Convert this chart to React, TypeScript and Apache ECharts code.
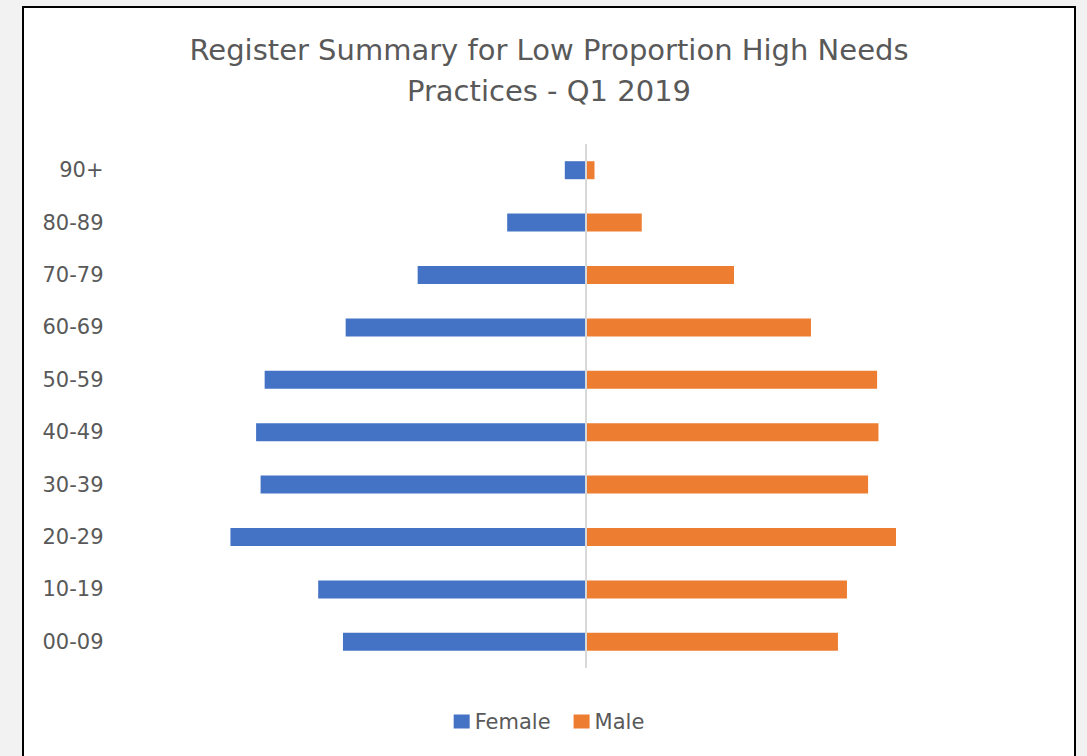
import React, { useEffect, useRef } from "react";
import * as echarts from "echarts";

// Age bands, bottom to top on the category axis
const ageBands = ["00-09", "10-19", "20-29", "30-39", "40-49", "50-59", "60-69", "70-79", "80-89", "90+"];

// Share of the register (%) by age band
const femaleShare = [5.39, 5.94, 7.89, 7.22, 7.32, 7.13, 5.33, 3.73, 1.74, 0.46];
const maleShare = [5.61, 5.81, 6.9, 6.28, 6.51, 6.48, 5.01, 3.3, 1.25, 0.2];

const titleLines = ["Register Summary for Low Proportion High Needs", "Practices - Q1 2019"];

const FONT = "'DejaVu Sans', 'Noto Sans', sans-serif";
const TEXT = "#595959";

export default function App() {
  const ref = useRef<HTMLDivElement>(null);

  useEffect(() => {
    if (!ref.current) return;
    const chart = echarts.init(ref.current, undefined, { renderer: "svg" });
    chart.setOption({
      animation: false,
      backgroundColor: "#ffffff",
      textStyle: { fontFamily: FONT },
      title: {
        text: titleLines.join("\n"),
        left: "center",
        top: 21,
        padding: 0,
        textStyle: {
          fontFamily: FONT,
          fontSize: 29,
          fontWeight: "normal",
          color: TEXT,
          lineHeight: 41,
        },
      },
      legend: {
        data: ["Female", "Male"],
        bottom: 19,
        left: "center",
        icon: "rect",
        itemWidth: 16,
        itemHeight: 14,
        itemGap: 23,
        textStyle: { fontFamily: FONT, fontSize: 21, color: TEXT },
      },
      grid: {
        left: 111.5,
        width: 900,
        top: 136,
        height: 524,
        containLabel: false,
      },
      xAxis: {
        type: "value",
        min: -10,
        max: 10,
        show: false,
      },
      yAxis: {
        type: "category",
        data: ageBands,
        axisLine: { show: false },
        axisTick: { show: false },
        axisLabel: {
          fontFamily: FONT,
          fontSize: 21,
          color: TEXT,
          margin: 32,
          align: "right",
        },
        splitLine: { show: false },
      },
      series: [
        {
          name: "Female",
          type: "bar",
          stack: "pyramid",
          barWidth: 18,
          data: femaleShare.map((v) => -v),
          itemStyle: { color: "#4472c4" },
        },
        {
          name: "Male",
          type: "bar",
          stack: "pyramid",
          barWidth: 18,
          data: maleShare,
          itemStyle: { color: "#ed7d31" },
          markLine: {
            silent: true,
            symbol: "none",
            label: { show: false },
            lineStyle: { color: "#d9d9d9", width: 2, type: "solid" },
            data: [{ xAxis: 0 }],
          },
        },
      ],
    });
    return () => chart.dispose();
  }, []);

  return (
    <div style={{ position: "fixed", inset: 0, background: "#f2f2f2", overflow: "hidden" }}>
      <div
        style={{
          position: "absolute",
          left: 22,
          top: 6,
          width: 1054,
          height: 760,
          boxSizing: "border-box",
          border: "2px solid #000",
          background: "#fff",
        }}
      >
        <div ref={ref} style={{ width: 1050, height: 748 }} />
      </div>
    </div>
  );
}
